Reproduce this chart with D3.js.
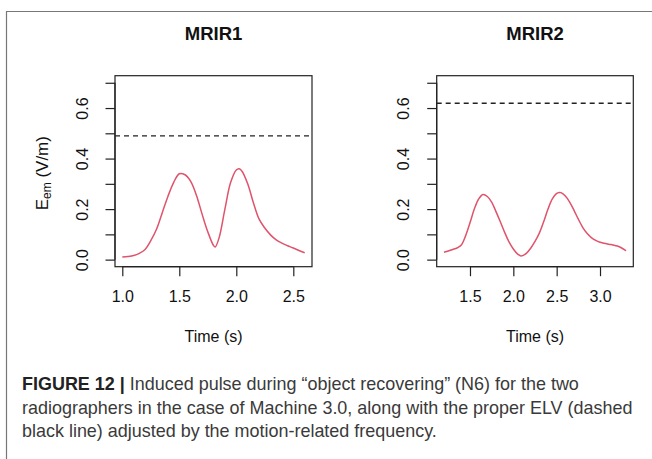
<!DOCTYPE html>
<html>
<head>
<meta charset="utf-8">
<script src="https://cdn.jsdelivr.net/npm/d3@7"></script>
<style>
  html, body { margin: 0; padding: 0; background: #fff; }
  svg { display: block; font-family: "Liberation Sans", Arial, Helvetica, sans-serif; }
</style>
</head>
<body>
<svg id="chart" width="652" height="459"></svg>
<script>
// Induced pulse E_em (V/m) over time (s), one panel per radiographer
const panelTitles = ["MRIR1", "MRIR2"];

const mrir1Time = [1.00, 1.05, 1.10, 1.15, 1.20, 1.25, 1.30, 1.35, 1.40, 1.45, 1.50, 1.55, 1.60, 1.65, 1.70, 1.75, 1.80, 1.815, 1.85, 1.90, 1.95, 2.00, 2.025, 2.05, 2.10, 2.15, 2.20, 2.25, 2.30, 2.35, 2.40, 2.45, 2.50, 2.55, 2.60];
const mrir1Field = [0.010, 0.012, 0.016, 0.025, 0.040, 0.075, 0.120, 0.185, 0.250, 0.305, 0.340, 0.336, 0.310, 0.255, 0.180, 0.110, 0.056, 0.050, 0.088, 0.200, 0.305, 0.355, 0.360, 0.350, 0.300, 0.225, 0.160, 0.125, 0.098, 0.078, 0.065, 0.055, 0.046, 0.036, 0.027];

const mrir2Time = [1.20, 1.25, 1.30, 1.35, 1.40, 1.45, 1.50, 1.55, 1.60, 1.65, 1.70, 1.75, 1.80, 1.85, 1.90, 1.95, 2.00, 2.05, 2.09, 2.15, 2.20, 2.25, 2.30, 2.35, 2.40, 2.45, 2.50, 2.53, 2.55, 2.60, 2.65, 2.70, 2.75, 2.80, 2.85, 2.90, 2.95, 3.00, 3.05, 3.10, 3.15, 3.20, 3.25, 3.30];
const mrir2Field = [0.029, 0.034, 0.040, 0.046, 0.058, 0.095, 0.146, 0.200, 0.240, 0.258, 0.250, 0.228, 0.190, 0.150, 0.108, 0.070, 0.042, 0.022, 0.014, 0.025, 0.045, 0.072, 0.105, 0.150, 0.200, 0.240, 0.262, 0.266, 0.265, 0.252, 0.228, 0.195, 0.160, 0.128, 0.104, 0.087, 0.076, 0.069, 0.065, 0.061, 0.058, 0.054, 0.046, 0.035];

// Exposure limit value (dashed reference) per panel
const elvValues = [0.49, 0.619];

// Axis ticks
const mrir1XTicks = [1.0, 1.5, 2.0, 2.5];
const mrir2XTicks = [1.5, 2.0, 2.5, 3.0];
const yTicks = [0.0, 0.1, 0.2, 0.3, 0.4, 0.5, 0.6, 0.7];
const yTickLabels = [0.0, 0.2, 0.4, 0.6];

const captionLines = [
  { bold: "FIGURE 12 |", text: " Induced pulse during \u201cobject recovering\u201d (N6) for the two" },
  { bold: "", text: "radiographers in the case of Machine 3.0, along with the proper ELV (dashed" },
  { bold: "", text: "black line) adjusted by the motion-related frequency." }
];

const svg = d3.select("#chart");
const curveColor = "#DF536B";
const ink = "#222";

// Outer figure frame: top and left rules
svg.append("line").attr("x1", 6).attr("x2", 652).attr("y1", 11.5).attr("y2", 11.5)
  .attr("stroke", "#777").attr("stroke-width", 1.2);
svg.append("line").attr("x1", 6.5).attr("x2", 6.5).attr("y1", 11).attr("y2", 459)
  .attr("stroke", "#777").attr("stroke-width", 1.2);

// Panel boxes in page pixels
const panels = [
  { title: panelTitles[0], time: mrir1Time, field: mrir1Field, elv: elvValues[0], xTicks: mrir1XTicks, left: 115, right: 312 },
  { title: panelTitles[1], time: mrir2Time, field: mrir2Field, elv: elvValues[1], xTicks: mrir2XTicks, left: 436.7, right: 633.3 }
];
const boxTop = 75.7, boxBottom = 266.7;

// R-style 4% padding around the data range
function padded(lo, hi) {
  const p = (hi - lo) * 0.04;
  return [lo - p, hi + p];
}

const y = d3.scaleLinear().domain(padded(0, 0.7)).range([boxBottom, boxTop]);

panels.forEach(p => {
  const x = d3.scaleLinear()
    .domain(padded(d3.min(p.time), d3.max(p.time)))
    .range([p.left, p.right]);
  const g = svg.append("g");
  const cx = (p.left + p.right) / 2;

  // Title
  g.append("text").attr("x", cx).attr("y", 39.5)
    .attr("text-anchor", "middle").attr("font-weight", "bold")
    .attr("font-size", 18.5).attr("fill", "#111").text(p.title);

  // Dashed ELV line across the plotting region
  g.append("line")
    .attr("x1", p.left).attr("x2", p.right)
    .attr("y1", y(p.elv)).attr("y2", y(p.elv))
    .attr("stroke", "#222").attr("stroke-width", 1.3)
    .attr("stroke-dasharray", "5,4");

  // Induced pulse curve
  const pts = p.time.map((t, i) => [t, p.field[i]]);
  g.append("path").datum(pts)
    .attr("fill", "none").attr("stroke", curveColor).attr("stroke-width", 1.5)
    .attr("d", d3.line().x(d => x(d[0])).y(d => y(d[1])).curve(d3.curveCatmullRom.alpha(0.5)));

  // Plot box
  g.append("rect").attr("x", p.left).attr("y", boxTop)
    .attr("width", p.right - p.left).attr("height", boxBottom - boxTop)
    .attr("fill", "none").attr("stroke", ink).attr("stroke-width", 1.2);

  // X axis
  const xAxis = d3.axisBottom(x).tickValues(p.xTicks).tickSize(9.5).tickSizeOuter(0)
    .tickFormat(d3.format(".1f")).tickPadding(8);
  const xa = g.append("g").attr("transform", `translate(0,${boxBottom})`).call(xAxis);
  xa.select(".domain").attr("d", `M${x(p.xTicks[0])},0H${x(p.xTicks[p.xTicks.length - 1])}`)
    .attr("stroke", ink).attr("stroke-width", 1.2);
  xa.selectAll(".tick line").attr("stroke", ink).attr("stroke-width", 1.2);
  xa.selectAll(".tick text").attr("font-size", 16).attr("fill", "#111")
    .attr("font-family", "'Liberation Sans', Arial, sans-serif")
    .attr("dy", null).attr("y", 31).attr("dominant-baseline", "middle");

  // Y axis: every 0.1 ticked, alternating labels, text rotated parallel to the axis
  const yAxis = d3.axisLeft(y).tickValues(yTicks).tickSize(9.5).tickSizeOuter(0)
    .tickFormat(d => yTickLabels.some(v => Math.abs(v - d) < 1e-9) ? d3.format(".1f")(d) : "");
  const ya = g.append("g").attr("transform", `translate(${p.left},0)`).call(yAxis);
  ya.select(".domain").attr("d", `M0,${y(0)}V${y(0.7)}`)
    .attr("stroke", ink).attr("stroke-width", 1.2);
  ya.selectAll(".tick line").attr("stroke", ink).attr("stroke-width", 1.2);
  ya.selectAll(".tick text")
    .attr("font-size", 16).attr("fill", "#111")
    .attr("font-family", "'Liberation Sans', Arial, sans-serif")
    .attr("x", null).attr("dy", null)
    .attr("text-anchor", "middle").attr("dominant-baseline", "middle")
    .attr("transform", "translate(-31.5,0) rotate(-90)");

  // X axis title
  g.append("text").attr("x", cx).attr("y", 337.5)
    .attr("text-anchor", "middle").attr("dominant-baseline", "middle")
    .attr("font-size", 16).attr("fill", "#111").text("Time (s)");
});

// Y axis title with subscript, left panel only
const yTitle = svg.append("text")
  .attr("transform", `translate(44,${(boxTop + boxBottom) / 2 + 2}) rotate(-90)`)
  .attr("text-anchor", "middle").attr("dominant-baseline", "middle")
  .attr("font-size", 17).attr("fill", "#111");
yTitle.append("tspan").text("E");
yTitle.append("tspan").attr("font-size", 12).attr("dy", 4).text("em");
yTitle.append("tspan").attr("dy", -4).text(" (V/m)");

// Caption, sized so its widest line spans the text column
const capLeft = 22, capRight = 633, capBaselines = [390, 413.5, 437];
const cap = svg.append("g").attr("fill", "#3a3a3a");
const capTexts = captionLines.map((ln, i) => {
  const t = cap.append("text").attr("x", capLeft).attr("y", capBaselines[i]).attr("font-size", 16);
  if (ln.bold) t.append("tspan").attr("font-weight", "bold").attr("fill", "#222").text(ln.bold);
  t.append("tspan").text(ln.text);
  return t;
});
const widest = capTexts[1].node().getComputedTextLength();
const capSize = 16 * (capRight - capLeft) / widest;
capTexts.forEach(t => t.attr("font-size", capSize));
</script>
</body>
</html>
